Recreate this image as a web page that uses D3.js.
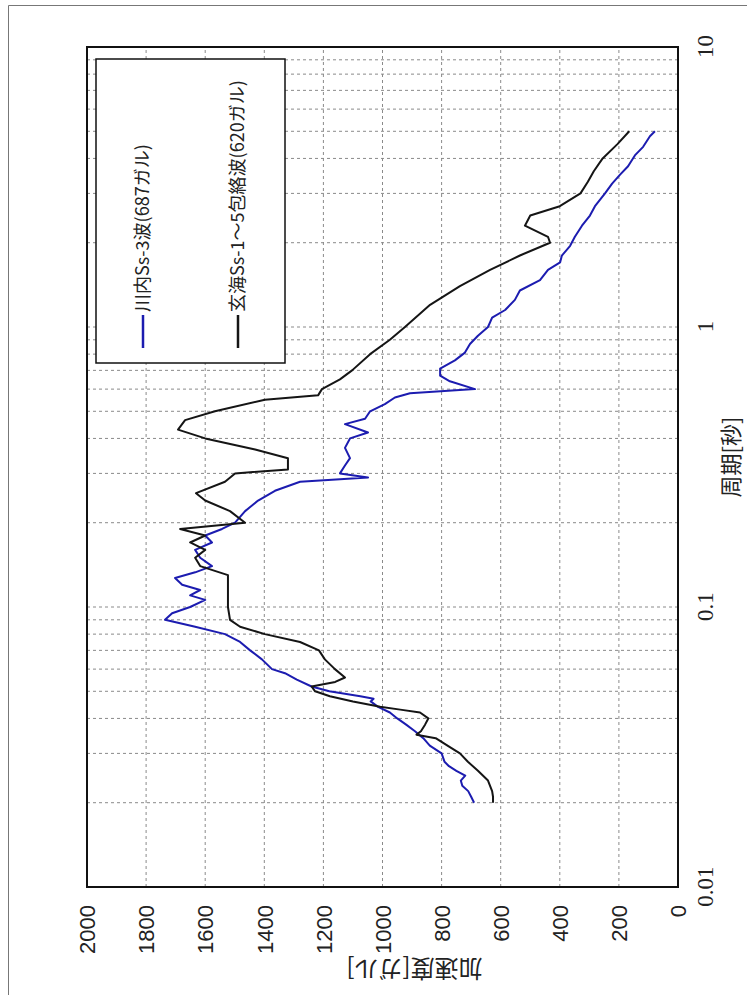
<!DOCTYPE html>
<html>
<head>
<meta charset="utf-8">
<script src="https://cdn.jsdelivr.net/npm/d3@7/dist/d3.min.js"></script>
<style>
  body { margin: 0; background: #fff; }
</style>
</head>
<body>
<div id="chart"></div>
<script>
// tick values
var periodTicks = [0.01, 0.1, 1, 10];
var accelTicks = [0, 200, 400, 600, 800, 1000, 1200, 1400, 1600, 1800, 2000];
var periodGrid = [0.02, 0.03, 0.04, 0.05, 0.06, 0.07, 0.08, 0.09, 0.1,
                  0.2, 0.3, 0.4, 0.5, 0.6, 0.7, 0.8, 0.9, 1,
                  2, 3, 4, 5, 6, 7, 8, 9];

// 川内 Ss-3
var sendaiPeriod = [0.02, 0.021, 0.022, 0.023, 0.024, 0.025, 0.026, 0.027, 0.028, 0.03,
                    0.032, 0.034, 0.036, 0.038, 0.04, 0.042, 0.044, 0.046, 0.047, 0.048,
                    0.05, 0.052, 0.055, 0.058, 0.06, 0.065, 0.07, 0.075, 0.08, 0.085,
                    0.09, 0.095, 0.1, 0.106, 0.11, 0.115, 0.12, 0.127, 0.133, 0.14,
                    0.15, 0.16, 0.17, 0.18, 0.19, 0.2, 0.22, 0.24, 0.26, 0.28,
                    0.29, 0.3, 0.32, 0.34, 0.37, 0.4, 0.42, 0.45, 0.47, 0.5,
                    0.53, 0.56, 0.58, 0.6, 0.64, 0.67, 0.71, 0.76, 0.81, 0.87,
                    0.93, 1.0, 1.08, 1.15, 1.25, 1.35, 1.47, 1.6, 1.7, 1.8,
                    1.95, 2.1, 2.3, 2.5, 2.7, 3.0, 3.25, 3.5, 3.75, 4.1,
                    4.4, 4.8, 5.0];
var sendaiAccel = [690, 700, 710, 730, 735, 720, 750, 775, 790, 800,
                   840, 862, 890, 920, 950, 975, 1015, 1040, 1030, 1075,
                   1180, 1240, 1290, 1330, 1374, 1408, 1448, 1482, 1533, 1634,
                   1736, 1712, 1651, 1600, 1651, 1617, 1678, 1702, 1634, 1577,
                   1617, 1634, 1577, 1600, 1543, 1499, 1465, 1421, 1364, 1279,
                   1049, 1144, 1127, 1110, 1127, 1110, 1049, 1127, 1059, 1042,
                   992, 958, 907, 687, 772, 805, 805, 755, 721, 704,
                   677, 643, 629, 585, 552, 535, 467, 440, 399, 393,
                   365, 349, 325, 298, 281, 247, 223, 196, 169, 146,
                   118, 95, 78];

// 玄海 Ss-1~5 包絡波
var genkaiPeriod = [0.02, 0.021, 0.022, 0.024, 0.026, 0.028, 0.03, 0.032, 0.033, 0.034,
                    0.035, 0.036, 0.038, 0.04, 0.042, 0.043, 0.044, 0.046, 0.048, 0.05,
                    0.052, 0.054, 0.056, 0.06, 0.065, 0.07, 0.075, 0.08, 0.085, 0.09,
                    0.1, 0.12, 0.13, 0.14, 0.15, 0.16, 0.17, 0.18, 0.19, 0.2,
                    0.22, 0.24, 0.255, 0.28, 0.3, 0.31, 0.34, 0.365, 0.4, 0.43,
                    0.465, 0.5, 0.55, 0.57, 0.6, 0.65, 0.7, 0.8, 0.9, 1.0,
                    1.2, 1.4, 1.6, 1.8, 2.0, 2.1, 2.3, 2.5, 2.7, 3.0,
                    3.3, 3.6, 4.0, 4.5, 5.0];
var genkaiAccel = [626, 626, 629, 643, 677, 711, 738, 780, 800, 820,
                   885, 870, 856, 845, 873, 940, 1008, 1100, 1178, 1228,
                   1240, 1160, 1127, 1161, 1195, 1215, 1279, 1398, 1482, 1516,
                   1523, 1523, 1523, 1617, 1634, 1600, 1651, 1600, 1685, 1465,
                   1516, 1600, 1631, 1533, 1499, 1320, 1320, 1431, 1600, 1692,
                   1668, 1567, 1398, 1218, 1205, 1144, 1103, 1042, 975, 924,
                   839, 738, 636, 535, 433, 440, 518, 500, 400, 330,
                   305, 285, 255, 205, 165];

var legendLabels = ["川内Ss-3波(687ガル)", "玄海Ss-1～5包絡波(620ガル)"];
var seriesColors = ["#1c1cb0", "#151515"];

// chart is drawn in its own frame, then turned a quarter turn
var W = 840, H = 591;

var svg = d3.select("#chart")
    .append("svg")
    .attr("width", 747)
    .attr("height", 995);

// outer border (left and top only visible)
svg.append("line").attr("x1", 8.5).attr("y1", 5.5).attr("x2", 8.5).attr("y2", 995)
    .attr("stroke", "#777").attr("stroke-width", 1);
svg.append("line").attr("x1", 8.5).attr("y1", 5.5).attr("x2", 747).attr("y2", 5.5)
    .attr("stroke", "#777").attr("stroke-width", 1);

var g = svg.append("g")
    .attr("transform", "translate(87,887) rotate(-90)");

var x = d3.scaleLog().domain([0.01, 10]).range([0, W]);
var y = d3.scaleLinear().domain([0, 2000]).range([H, 0]);

// grid
g.append("g").selectAll("line")
    .data(periodGrid)
    .enter().append("line")
    .attr("x1", d => x(d)).attr("x2", d => x(d))
    .attr("y1", 0).attr("y2", H)
    .attr("stroke", "#8a8a8a")
    .attr("stroke-width", 1)
    .attr("stroke-dasharray", "3,3");

g.append("g").selectAll("line")
    .data(accelTicks.slice(1, -1))
    .enter().append("line")
    .attr("x1", 0).attr("x2", W)
    .attr("y1", d => y(d)).attr("y2", d => y(d))
    .attr("stroke", "#8a8a8a")
    .attr("stroke-width", 1)
    .attr("stroke-dasharray", "3,3");

// axes
var xAxis = g.append("g")
    .attr("transform", "translate(0," + H + ")")
    .call(d3.axisBottom(x).tickValues(periodTicks).tickSize(0).tickFormat(d => String(d)));
xAxis.select(".domain").remove();
xAxis.selectAll("text")
    .attr("y", 27)
    .attr("dy", "0.35em")
    .attr("fill", "#222")
    .style("font-family", "'Liberation Serif', serif")
    .style("font-size", "23px");

var yAxis = g.append("g")
    .call(d3.axisLeft(y).tickValues(accelTicks).tickSize(0).tickPadding(18).tickFormat(d => String(d)));
yAxis.select(".domain").remove();
yAxis.selectAll("text")
    .attr("dy", "0.35em")
    .attr("fill", "#222")
    .style("font-family", "'Liberation Sans', Arial, sans-serif")
    .style("font-size", "22px");

// series
var line = d3.line()
    .x(d => x(d[0]))
    .y(d => y(d[1]));

var series = [
    d3.zip(sendaiPeriod, sendaiAccel),
    d3.zip(genkaiPeriod, genkaiAccel)
];

g.append("g").selectAll("path")
    .data(series)
    .enter().append("path")
    .attr("d", line)
    .attr("fill", "none")
    .attr("stroke", (d, i) => seriesColors[i])
    .attr("stroke-width", 2)
    .attr("stroke-linejoin", "round");

// frame
g.append("rect")
    .attr("x", 0).attr("y", 0)
    .attr("width", W).attr("height", H)
    .attr("fill", "none")
    .attr("stroke", "#111")
    .attr("stroke-width", 2);

// legend
var legend = g.append("g").attr("transform", "translate(524,9)");
legend.append("rect")
    .attr("width", 304).attr("height", 189)
    .attr("fill", "#fff")
    .attr("stroke", "#111")
    .attr("stroke-width", 1.5);

var items = legend.selectAll("g.item")
    .data(legendLabels)
    .enter().append("g")
    .attr("class", "item")
    .attr("transform", (d, i) => "translate(0," + (47 + i * 95) + ")");
items.append("line")
    .attr("x1", 15).attr("x2", 48)
    .attr("stroke", (d, i) => seriesColors[i])
    .attr("stroke-width", 2.5);
items.append("text")
    .attr("x", 51)
    .attr("dy", "0.35em")
    .attr("fill", "#222")
    .style("font-family", "'Noto Sans CJK JP', sans-serif")
    .style("font-size", "18px")
    .text(d => d);

// axis titles
g.append("text")
    .attr("transform", "translate(-81," + (H / 2 + 32) + ") rotate(-90)")
    .attr("text-anchor", "middle")
    .attr("dy", "0.35em")
    .attr("fill", "#222")
    .style("font-family", "'Noto Sans CJK JP', sans-serif")
    .style("font-size", "24px")
    .text("加速度[ガル]");

g.append("text")
    .attr("x", 430)
    .attr("y", H + 53)
    .attr("text-anchor", "middle")
    .attr("dy", "0.35em")
    .attr("fill", "#222")
    .style("font-family", "'Noto Sans CJK JP', sans-serif")
    .style("font-size", "22px")
    .text("周期[秒]");
</script>
</body>
</html>
